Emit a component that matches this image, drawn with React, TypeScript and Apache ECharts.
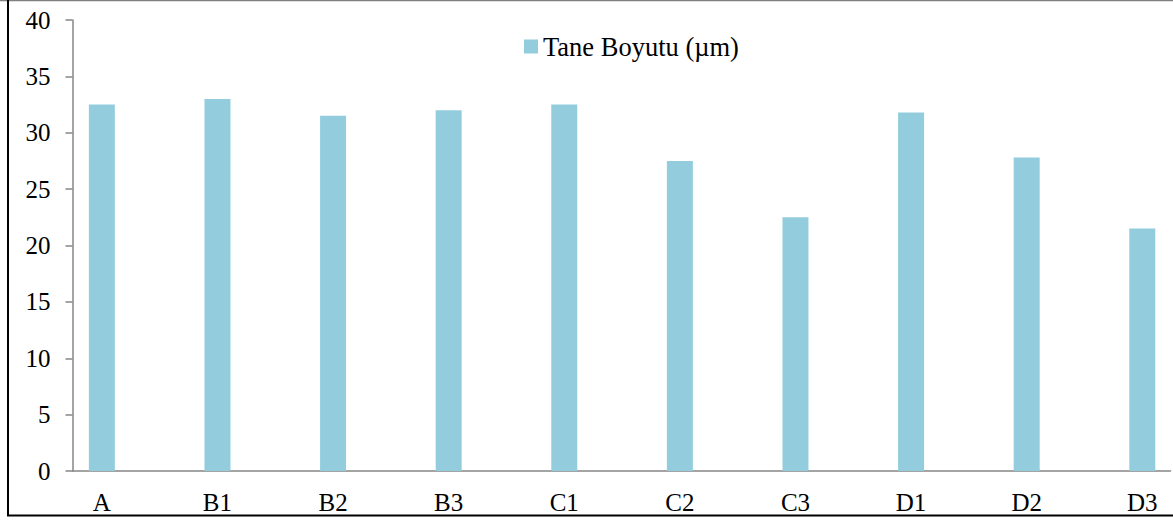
import React, { useEffect, useRef } from "react";
import * as echarts from "echarts";

// Categories and grain size values (µm)
const categories = ["A", "B1", "B2", "B3", "C1", "C2", "C3", "D1", "D2", "D3"];
const grainSize = [32.5, 33, 31.5, 32, 32.5, 27.5, 22.5, 31.8, 27.8, 21.5];
const seriesName = "Tane Boyutu (µm)";
const yTicks = { min: 0, max: 40, interval: 5 };

const FONT = "Liberation Serif";
const AXIS_GRAY = "#868686";
const BAR_COLOR = "#93CDDD";

export default function App() {
  const ref = useRef<HTMLDivElement>(null);

  useEffect(() => {
    document.body.style.margin = "0";
    if (!ref.current) return;
    const chart = echarts.init(ref.current, null, { renderer: "svg" });
    const positions = categories.map((_, i) => i);

    chart.setOption({
      animation: false,
      backgroundColor: "#ffffff",
      textStyle: { fontFamily: FONT },
      grid: { left: 72.5, right: 2.5, top: 20, bottom: 49, containLabel: false },
      legend: {
        show: true,
        left: 524,
        top: 33,
        padding: 0,
        icon: "rect",
        itemWidth: 14,
        itemHeight: 14,
        itemGap: 5,
        textStyle: { fontFamily: FONT, fontSize: 26.5, color: "#000" },
        data: [seriesName],
      },
      xAxis: {
        type: "value",
        min: -0.254,
        max: 9.244,
        splitLine: { show: false },
        axisLine: { show: true, onZero: false, lineStyle: { color: AXIS_GRAY, width: 1.5 } },
        axisTick: { show: false },
        axisLabel: {
          customValues: positions,
          formatter: (v: number) => categories[Math.round(v)] ?? "",
          fontFamily: FONT,
          fontSize: 25,
          color: "#000",
          margin: 19,
        },
      },
      yAxis: {
        type: "value",
        min: yTicks.min,
        max: yTicks.max,
        interval: yTicks.interval,
        splitLine: { show: false },
        axisLine: { show: true, onZero: false, lineStyle: { color: AXIS_GRAY, width: 1.5 } },
        axisTick: { show: true, inside: false, length: 7, lineStyle: { color: AXIS_GRAY, width: 1.5 } },
        axisLabel: { fontFamily: FONT, fontSize: 25, color: "#000", margin: 22 },
      },
      series: [
        {
          name: seriesName,
          type: "bar",
          barWidth: 26,
          itemStyle: { color: BAR_COLOR },
          data: categories.map((_, i) => [i, grainSize[i]]),
        },
      ],
      graphic: [
        {
          type: "line",
          shape: { x1: 0, y1: 0.5, x2: 1173, y2: 0.5 },
          style: { stroke: "#7f7f7f", lineWidth: 1.5 },
        },
        {
          type: "line",
          shape: { x1: 8, y1: 0, x2: 8, y2: 516 },
          style: { stroke: "#000", lineWidth: 2 },
        },
        {
          type: "line",
          shape: { x1: 7, y1: 515.5, x2: 1173, y2: 515.5 },
          style: { stroke: "#000", lineWidth: 2 },
        },
      ],
    });

    return () => chart.dispose();
  }, []);

  return <div ref={ref} style={{ width: 1173, height: 520 }} />;
}
